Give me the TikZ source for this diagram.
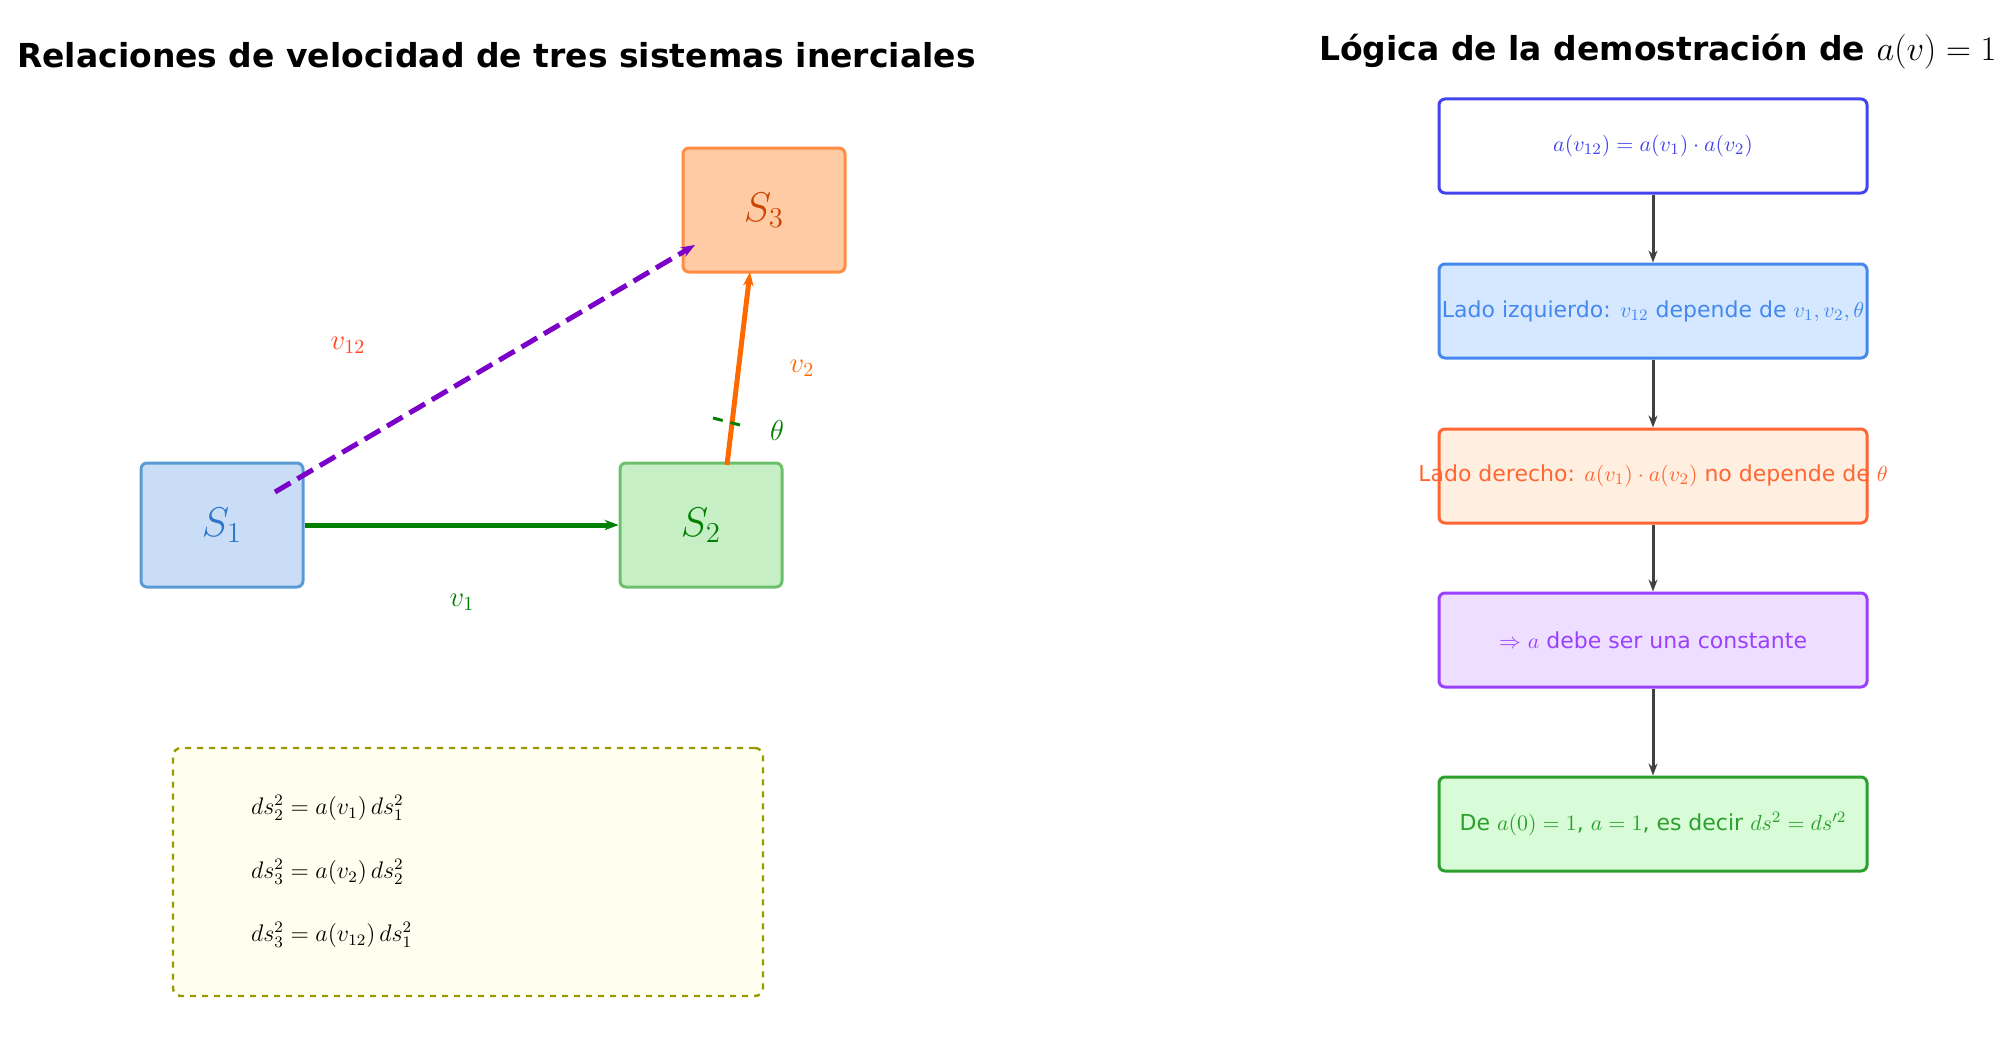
\documentclass[tikz,border=0pt]{standalone}
\usepackage{amsmath}
\usepackage{fontspec}
\setmainfont{DejaVu Sans}
\usetikzlibrary{positioning, arrows.meta}
\definecolor{boxblue}{HTML}{C9DDF7}
\definecolor{lineblue}{HTML}{5B9BD5}
\definecolor{boxgreen}{HTML}{C6EFC6}
\definecolor{linegreen}{HTML}{6CC06C}
\definecolor{boxorange}{HTML}{FFCBA4}
\definecolor{lineorange}{HTML}{FF8C42}
\definecolor{darkgreen}{HTML}{008000}
\definecolor{vpurple}{HTML}{7B00C8}
\definecolor{vred}{HTML}{FF4422}
\definecolor{vorange}{HTML}{FF6A00}
\definecolor{relolive}{HTML}{999900}
\definecolor{paleyellow}{HTML}{FFFFF0}
\definecolor{stepA}{HTML}{4444EE}
\definecolor{stepB}{HTML}{4488EE}
\definecolor{fillB}{HTML}{D6E8FF}
\definecolor{stepC}{HTML}{FF6633}
\definecolor{fillC}{HTML}{FFEFE0}
\definecolor{stepD}{HTML}{9A40FF}
\definecolor{fillD}{HTML}{EEDEFF}
\definecolor{stepE}{HTML}{2CA02C}
\definecolor{fillE}{HTML}{D8FCD8}
\definecolor{arrowgray}{HTML}{404040}
\definecolor{textthree}{HTML}{CC4400}
\definecolor{textone}{HTML}{2E75C8}

\begin{document}
\begin{tikzpicture}[
        x=0.5pt, y=-0.5pt,
        frame/.style={rectangle, rounded corners=3pt, line width=1.5pt, minimum width=81pt, minimum height=62pt, font=\fontsize{20}{22}\selectfont},
        logic/.style={rectangle, rounded corners=3pt, line width=1.5pt, minimum width=214pt, minimum height=47pt, font=\fontsize{11}{13}\selectfont},
        flow/.style={-{Stealth[length=6pt]}, line width=1.5pt, arrowgray},
        vel/.style={-{Stealth[length=7pt]}, line width=2.5pt}
    ]
    \useasboundingbox (0,0) rectangle (2006,1038);

    % Titles
    \node[anchor=west, font=\fontsize{16.5}{19}\selectfont\bfseries] (title1) at (10,55) {Relaciones de velocidad de tres sistemas inerciales};
    \node[anchor=west, font=\fontsize{16.5}{19}\selectfont\bfseries] (title2) at (1312,52) {Lógica de la demostración de $a(v)=1$};

    % Inertial frames
    \node[frame, draw=lineblue, fill=boxblue, text=textone] (S1) at (222,525) {$S_1$};
    \node[frame, draw=linegreen, fill=boxgreen, text=darkgreen] (S2) at (701,525) {$S_2$};
    \node[frame, draw=lineorange, fill=boxorange, text=textthree] (S3) at (764,210) {$S_3$};

    % Velocities
    \coordinate (p12) at (275,492);
    \coordinate (q12) at (695,245);
    \coordinate (p2) at (727,465);
    \coordinate (q2) at (750,272);
    \coordinate (t1) at (713,418);
    \coordinate (t2) at (740,425);
    \draw[vel, darkgreen] (S1.east) -- (S2.west);
    \draw[vel, vpurple, dash pattern=on 9pt off 4pt] (p12) -- (q12);
    \draw[vel, vorange] (p2) -- (q2);
    \draw[darkgreen, line width=1.5pt, dash pattern=on 5pt off 4pt] (t1) -- (t2);

    \node[text=darkgreen, font=\Large] (l1) at (462,602) {$v_1$};
    \node[text=vred, font=\Large] (l12) at (348,345) {$v_{12}$};
    \node[text=vorange, font=\Large] (l2) at (802,368) {$v_2$};
    \node[text=darkgreen, font=\Large] (lt) at (777,430) {$\theta$};

    % Interval relations
    \node[rectangle, rounded corners=4pt, draw=relolive, fill=paleyellow, line width=1.2pt, dashed,
          minimum width=295pt, minimum height=124pt] (rel) at (468,872) {};
    \node[anchor=west, font=\fontsize{11.5}{13}\selectfont] (e1) at (244,808) {$ds_2^2 = a(v_1)\,ds_1^2$};
    \node[anchor=west, font=\fontsize{11.5}{13}\selectfont] (e2) at (244,872) {$ds_3^2 = a(v_2)\,ds_2^2$};
    \node[anchor=west, font=\fontsize{11.5}{13}\selectfont] (e3) at (244,935) {$ds_3^2 = a(v_{12})\,ds_1^2$};

    % Proof logic
    \node[logic, draw=stepA, fill=white, label={[text=stepA, font=\fontsize{11}{13}\selectfont]center:{$a(v_{12}) = a(v_1)\cdot a(v_2)$}}] (st1) at (1653,146) {};
    \node[logic, draw=stepB, fill=fillB, label={[text=stepB, font=\fontsize{11}{13}\selectfont]center:{Lado izquierdo: $v_{12}$ depende de $v_1, v_2, \theta$}}] (st2) at (1653,311) {};
    \node[logic, draw=stepC, fill=fillC, label={[text=stepC, font=\fontsize{11}{13}\selectfont]center:{Lado derecho: $a(v_1)\cdot a(v_2)$ no depende de $\theta$}}] (st3) at (1653,476) {};
    \node[logic, draw=stepD, fill=fillD, label={[text=stepD, font=\fontsize{11}{13}\selectfont]center:{$\Rightarrow$ $a$ debe ser una constante}}] (st4) at (1653,640) {};
    \node[logic, draw=stepE, fill=fillE, label={[text=stepE, font=\fontsize{11}{13}\selectfont]center:{De $a(0)=1$, $a=1$, es decir $ds^2 = ds'^2$}}] (st5) at (1653,824) {};

    \draw[flow] (st1) -- (st2);
    \draw[flow] (st2) -- (st3);
    \draw[flow] (st3) -- (st4);
    \draw[flow] (st4) -- (st5);
\end{tikzpicture}
\end{document}
